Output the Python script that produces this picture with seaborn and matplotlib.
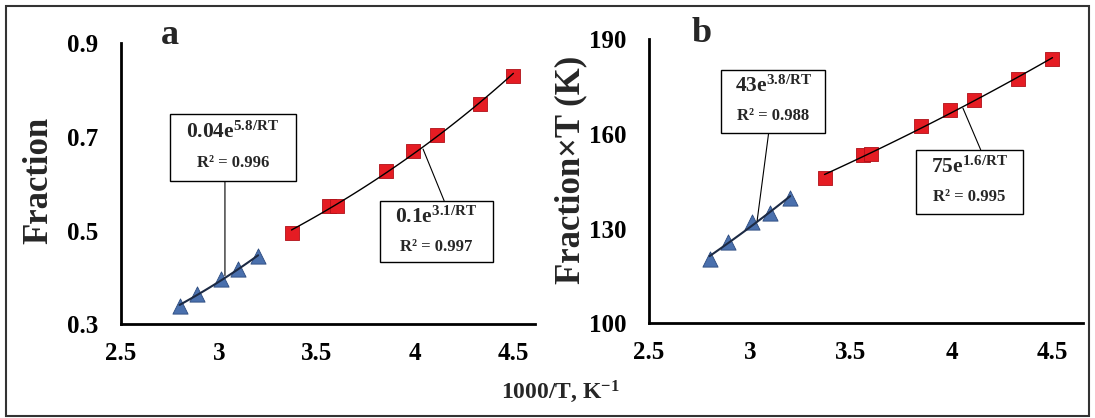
"""Arrhenius-type plots of fraction vs 1000/T (panels a and b)."""
import matplotlib
matplotlib.use("Agg")
import matplotlib.pyplot as plt
import seaborn as sns
import numpy as np
import pandas as pd
from matplotlib.patches import Rectangle

# data
inv_t_high = [2.80, 2.89, 3.01, 3.10, 3.20]          # blue triangles
frac_high = [0.339, 0.364, 0.397, 0.418, 0.445]
fracT_high = [120.4, 125.9, 132.0, 135.1, 139.7]

inv_t_low = [3.37, 3.56, 3.60, 3.85, 3.99, 4.11, 4.33, 4.50]   # red squares
frac_low = [0.495, 0.552, 0.553, 0.628, 0.669, 0.704, 0.770, 0.830]
fracT_low = [146.2, 153.4, 153.6, 162.6, 167.6, 170.7, 177.3, 183.6]

fit_labels_a = [r"$0.04\mathrm{e}^{5.8/RT}$", r"$0.1\mathrm{e}^{3.1/RT}$"]
r2_labels_a = ["R² = 0.996", "R² = 0.997"]
fit_labels_b = [r"$43\mathrm{e}^{3.8/RT}$", r"$75\mathrm{e}^{1.6/RT}$"]
r2_labels_b = ["R² = 0.988", "R² = 0.995"]

yticks_a = [0.3, 0.5, 0.7, 0.9]
yticks_b = [100, 130, 160, 190]
xticks = [2.5, 3, 3.5, 4, 4.5]

sns.set_theme(style="white")
plt.rcParams['font.family'] = ['Liberation Serif', 'DejaVu Serif']
plt.rcParams['font.weight'] = 'bold'
plt.rcParams['mathtext.fontset'] = 'custom'
plt.rcParams['mathtext.rm'] = 'Liberation Serif:bold'
plt.rcParams['mathtext.it'] = 'Liberation Serif:bold'
plt.rcParams['mathtext.bf'] = 'Liberation Serif:bold'

BLUE = '#4a70ad'
BLUE_EDGE = '#2c4a7e'
RED = '#e51c23'
RED_EDGE = '#b01018'


def exp_fit(x, y):
    """Exponential trendline y = A*exp(B*x) over the data range."""
    b, log_a = np.polyfit(np.asarray(x), np.log(np.asarray(y)), 1)
    xs = np.linspace(min(x), max(x), 40)
    return pd.DataFrame({'x': xs, 'y': np.exp(log_a) * np.exp(b * xs)})


def fit_box(ax, x0, x1, y0, y1, line1, line2, ty1, ty2, start, end):
    ax.add_patch(Rectangle((x0, y0), x1 - x0, y1 - y0, fill=True,
                           facecolor='white', edgecolor='black', lw=1.0, zorder=5))
    xc = (x0 + x1) / 2
    ax.text(xc, ty1, line1, ha='center', va='center', fontsize=15.5, zorder=6)
    ax.text(xc, ty2, line2, ha='center', va='center', fontsize=12,
            fontweight='bold', zorder=6)
    ax.annotate("", xy=end, xytext=start,
                arrowprops=dict(arrowstyle='-', color='black', lw=0.8,
                                shrinkA=0, shrinkB=0), zorder=4)


def draw_panel(ax, y_high, y_low):
    high = pd.DataFrame({'x': inv_t_high, 'y': y_high})
    low = pd.DataFrame({'x': inv_t_low, 'y': y_low})
    sns.scatterplot(data=high, x='x', y='y', ax=ax, marker='^', s=120,
                    color=BLUE, edgecolor=BLUE_EDGE, linewidth=0.6, zorder=2)
    sns.scatterplot(data=low, x='x', y='y', ax=ax, marker='s', s=105,
                    color=RED, edgecolor=RED_EDGE, linewidth=0.6, zorder=2)
    sns.lineplot(data=exp_fit(inv_t_high, y_high), x='x', y='y', ax=ax,
                 color='#1c2a44', lw=1.5, zorder=3)
    sns.lineplot(data=exp_fit(inv_t_low, y_low), x='x', y='y', ax=ax,
                 color='black', lw=1.0, zorder=3)
    ax.set_xlabel("")
    ax.set_ylabel("")
    ax.set_xticks(xticks)
    ax.set_xticklabels([f"{t:g}" for t in xticks])
    for side in ['top', 'right']:
        ax.spines[side].set_visible(False)
    for side in ['left', 'bottom']:
        ax.spines[side].set_linewidth(2.0)
        ax.spines[side].set_color('black')
    ax.tick_params(direction='in', length=5, width=1.5, labelsize=18,
                   colors='black')
    ax.tick_params(axis='x', pad=13)
    ax.tick_params(axis='y', pad=16)
    for lab in ax.get_xticklabels() + ax.get_yticklabels():
        lab.set_fontweight('bold')


fig = plt.figure(figsize=(10.95, 4.18), dpi=100)
ax1 = fig.add_axes([0.1102, 0.2242, 0.3784, 0.6722])
ax2 = fig.add_axes([0.5927, 0.2266, 0.3961, 0.6794])

# panel a
draw_panel(ax1, frac_high, frac_low)
ax1.set_xlim(2.5, 4.61)
ax1.set_ylim(0.3, 0.9)
ax1.set_yticks(yticks_a)
ax1.set_yticklabels([f"{t:g}" for t in yticks_a])
for lab in ax1.get_yticklabels():
    lab.set_fontweight('bold')
fit_box(ax1, 2.752, 3.391, 0.606, 0.749, fit_labels_a[0], r2_labels_a[0],
        0.711, 0.645, (3.031, 0.606), (3.031, 0.404))
fit_box(ax1, 3.820, 4.394, 0.432, 0.564, fit_labels_a[1], r2_labels_a[1],
        0.528, 0.466, (4.147, 0.564), (4.04, 0.674))

# panel b
draw_panel(ax2, fracT_high, fracT_low)
ax2.set_xlim(2.5, 4.65)
ax2.set_ylim(100, 190)
ax2.set_yticks(yticks_b)
ax2.set_yticklabels([f"{t:g}" for t in yticks_b])
for lab in ax2.get_yticklabels():
    lab.set_fontweight('bold')
fit_box(ax2, 2.859, 3.374, 160.3, 180.3, fit_labels_b[0], r2_labels_b[0],
        175.2, 165.7, (3.093, 160.3), (3.036, 132.5))
fit_box(ax2, 3.822, 4.353, 134.7, 155.0, fit_labels_b[1], r2_labels_b[1],
        149.4, 139.9, (4.144, 155.0), (4.056, 168.2))

# labels
fig.text(0.155, 0.916, "a", fontsize=26, fontweight='bold', ha='center', va='center')
fig.text(0.641, 0.921, "b", fontsize=26, fontweight='bold', ha='center', va='center')
fig.text(0.0353, 0.569, "Fraction", rotation=90, fontsize=25, fontweight='bold',
         ha='center', va='center')
fig.text(0.5215, 0.593, "Fraction×T (K)", rotation=90, fontsize=25,
         fontweight='bold', ha='center', va='center')
fig.text(0.512, 0.062, r"1000/T, K$^{\mathbf{-1}}$", fontsize=17,
         fontweight='bold', ha='center', va='center')

# outer frame
fig.patches.append(Rectangle((0.0055, 0.005), 0.989, 0.981, transform=fig.transFigure,
                             fill=False, edgecolor='#333333', lw=1.5))

plt.savefig("out.png", dpi=100)
plt.close()
